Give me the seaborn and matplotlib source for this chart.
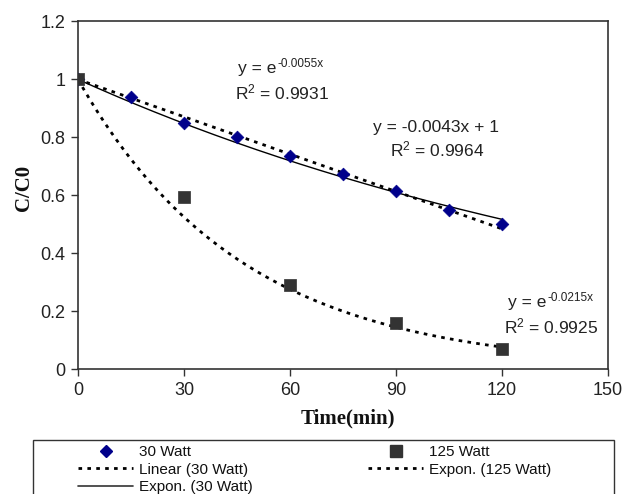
import numpy as np
import pandas as pd
import matplotlib
matplotlib.use("Agg")
import matplotlib.pyplot as plt
import seaborn as sns
from matplotlib.lines import Line2D
from matplotlib.patches import Rectangle

# ---- data ----
time_30 = [0, 15, 30, 45, 60, 75, 90, 105, 120]
c_30 = [1.0, 0.94, 0.85, 0.80, 0.735, 0.675, 0.615, 0.55, 0.50]
time_125 = [0, 30, 60, 90, 120]
c_125 = [1.0, 0.595, 0.29, 0.16, 0.07]

# trendline coefficients (as printed on chart)
lin_slope_30 = -0.0043
lin_icpt_30 = 1.0
exp_k_30 = -0.0055
exp_k_125 = -0.0215

x_ticks = [0, 30, 60, 90, 120, 150]
y_ticks = [0, 0.2, 0.4, 0.6, 0.8, 1.0, 1.2]
y_tick_labels = ["0", "0.2", "0.4", "0.6", "0.8", "1", "1.2"]

# ---- style ----
sns.set_style("white")
plt.rcParams["font.family"] = ["Liberation Sans", "DejaVu Sans"]
plt.rcParams["mathtext.fontset"] = "custom"
plt.rcParams["mathtext.rm"] = "Liberation Sans"
plt.rcParams["mathtext.it"] = "Liberation Sans:italic"
plt.rcParams["mathtext.bf"] = "Liberation Sans:bold"

fig = plt.figure(figsize=(6.26, 4.94), dpi=100)
W, H = 626, 494
ax = fig.add_axes([78 / W, 1 - 369 / H, (608 - 78) / W, (369 - 21.5) / H])

# trendlines
xg = np.linspace(0, 120, 200)
df_tr = pd.DataFrame({
    "x": xg,
    "lin30": lin_slope_30 * xg + lin_icpt_30,
    "exp30": np.exp(exp_k_30 * xg),
    "exp125": np.exp(exp_k_125 * xg),
})
dot = (0, (1.3, 1.9))
sns.lineplot(data=df_tr, x="x", y="lin30", ax=ax, color="black", lw=2.0,
             linestyle=dot, zorder=2)
sns.lineplot(data=df_tr, x="x", y="exp30", ax=ax, color="black", lw=1.0,
             linestyle="-", zorder=2)
sns.lineplot(data=df_tr, x="x", y="exp125", ax=ax, color="black", lw=2.0,
             linestyle=dot, zorder=2)

# points
df30 = pd.DataFrame({"t": time_30, "c": c_30})
df125 = pd.DataFrame({"t": time_125, "c": c_125})
sns.scatterplot(data=df30, x="t", y="c", ax=ax, marker="D", s=42,
                color="#00008B", edgecolor="#00008B", linewidth=0.5, zorder=3)
sns.scatterplot(data=df125, x="t", y="c", ax=ax, marker="s", s=80,
                color="#333333", edgecolor="#333333", linewidth=0.5, zorder=3)

# axes
ax.set_xlim(0, 150)
ax.set_ylim(0, 1.2)
ax.set_xticks(x_ticks)
ax.set_xticklabels([str(v) for v in x_ticks])
ax.set_yticks(y_ticks)
ax.set_yticklabels(y_tick_labels)
ax.tick_params(axis="both", direction="out", length=5, width=1, color="#333333",
               labelsize=13, labelcolor="#222222", pad=4,
               bottom=True, left=True)
for sp in ax.spines.values():
    sp.set_color("#333333")
    sp.set_linewidth(1.2)
    sp.set_visible(True)

ax.set_xlabel("Time(min)", family="Liberation Serif", fontweight="bold",
              fontsize=15, color="#111111")
ax.set_ylabel("C/C0", family="Liberation Serif", fontweight="bold",
              fontsize=15, color="#111111")
ax.xaxis.set_label_coords((347.5 - 78) / 530, -(423 - 369) / 347.5)
ax.xaxis.label.set_va("baseline")
ax.yaxis.set_label_coords(-(78 - 34) / 530, (369 - 188) / 347.5)

# equations
tkw = dict(ha="left", va="baseline", fontsize=12.5, color="#222222")


def eq_exp(x, y, base, sup):
    t = ax.text(x, y, base, **tkw)
    ax.annotate(sup, xy=(1.0, 0.0), xycoords=t, xytext=(0.5, 6.5),
                textcoords="offset points", ha="left", va="baseline",
                fontsize=8.5, color="#222222")


eq_exp(45.3, 1.021, "y = e", "-0.0055x")
ax.text(44.4, 0.931, r"R$^2$ = 0.9931", **tkw)
ax.text(83.5, 0.820, "y = -0.0043x + 1", **tkw)
ax.text(88.3, 0.734, r"R$^2$ = 0.9964", **tkw)
eq_exp(121.7, 0.2145, "y = e", "-0.0215x")
ax.text(120.7, 0.1246, r"R$^2$ = 0.9925", **tkw)

# legend (two columns, boxed)
h30 = Line2D([], [], ls="none", marker="D", ms=6, color="#00008B")
hlin = Line2D([], [], color="black", lw=2.0, ls=dot)
hexp30 = Line2D([], [], color="#333333", lw=1.2, ls="-")
h125 = Line2D([], [], ls="none", marker="s", ms=8, color="#333333")
hexp125 = Line2D([], [], color="black", lw=2.0, ls=dot)
lkw = dict(loc="upper left", frameon=False, fontsize=11, handlelength=3.6,
           handletextpad=0.4, borderpad=0.0, labelspacing=0.24,
           borderaxespad=0.0, labelcolor="#111111")
fig.legend([h30, hlin, hexp30], ["30 Watt", "Linear (30 Watt)", "Expon. (30 Watt)"],
           bbox_to_anchor=(78 / W, 1 - 445 / H), **lkw)
fig.legend([h125, hexp125], ["125 Watt", "Expon. (125 Watt)"],
           bbox_to_anchor=(368 / W, 1 - 445 / H), **lkw)
fig.add_artist(Rectangle((33 / W, -0.1), (614 - 33) / W, 0.1 + 1 - 440 / H,
                         transform=fig.transFigure, fill=False,
                         edgecolor="#333333", linewidth=1.0))

fig.savefig("out.png", dpi=100)
